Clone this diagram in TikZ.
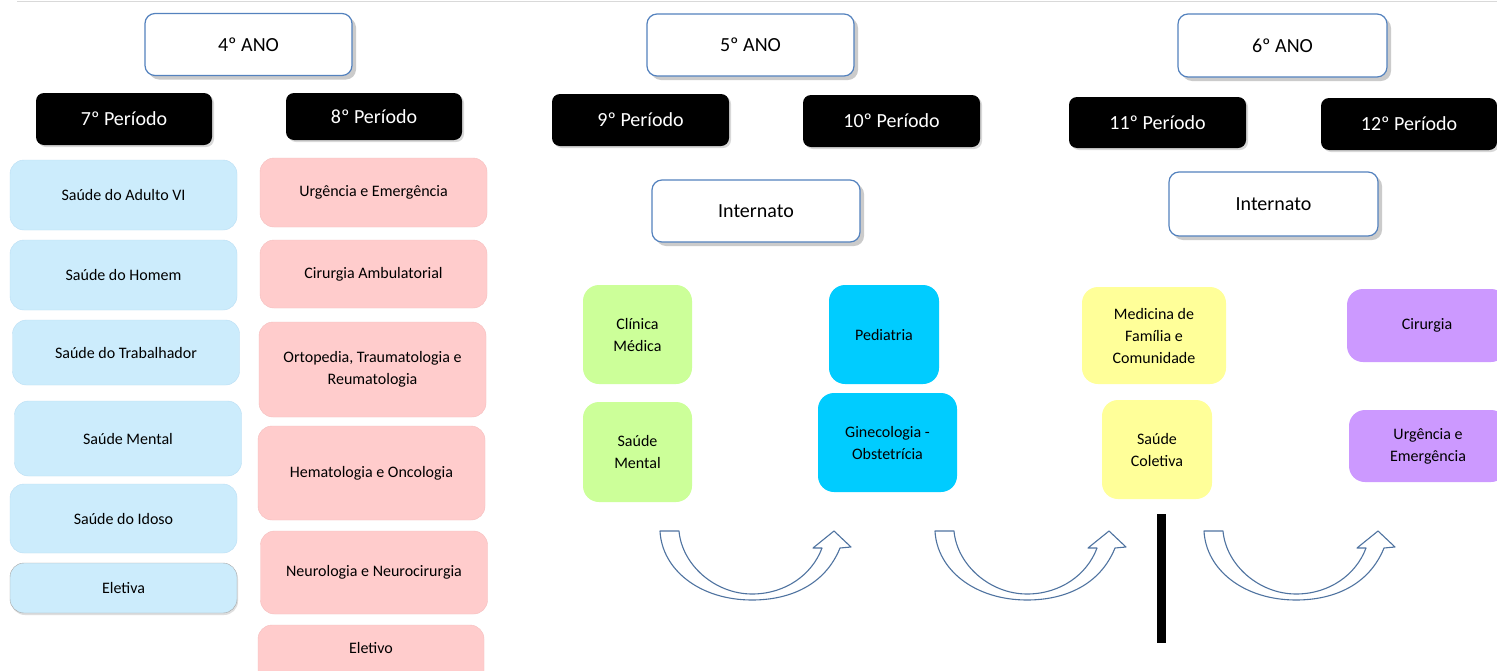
\documentclass[tikz,border=0pt]{standalone}
\usepackage{fontspec}
\setmainfont{Carlito}
\usetikzlibrary{positioning, shadows}

\definecolor{anoborder}{RGB}{84,130,190}
\definecolor{azul}{RGB}{204,236,252}
\definecolor{azulborda}{RGB}{186,222,244}
\definecolor{rosa}{RGB}{255,204,204}
\definecolor{rosaborda}{RGB}{245,190,190}
\definecolor{verde}{RGB}{204,255,153}
\definecolor{ciano}{RGB}{0,204,255}
\definecolor{amarelo}{RGB}{255,255,153}
\definecolor{lilas}{RGB}{204,153,255}
\definecolor{seta}{RGB}{79,115,160}

\begin{document}
\begin{tikzpicture}[x=1pt, y=-1pt,
            every node/.style = {
                shape=rectangle, align=center, inner sep=2pt,
                text=black, font=\fontsize{16}{22}\selectfont
            }
        ]
        \tikzstyle{ano}=[draw=anoborder, line width=1.2pt, fill=white, rounded corners=10pt,
            drop shadow={shadow xshift=4pt, shadow yshift=-4pt, fill=black!40},
            font=\fontsize{20}{24}\selectfont]
        \tikzstyle{periodo}=[fill=black, rounded corners=8pt, text=white,
            drop shadow={shadow xshift=2pt, shadow yshift=-2pt, fill=black!30},
            font=\fontsize{20}{24}\selectfont]
        \tikzstyle{setimo}=[fill=azul, draw=azulborda, rounded corners=14pt, minimum width=227pt]
        \tikzstyle{oitavo}=[fill=rosa, draw=rosaborda, rounded corners=14pt, minimum width=227pt]
        \tikzstyle{rodizio}=[rounded corners=16pt]

        \useasboundingbox (0,0) rectangle (1497,670);
        \fill[white] (0,0) rectangle (1497,670);
        \clip (0,0) rectangle (1497,670);
        \draw[black!15] (17,1) -- (1497,1);

        % anos
        \node[ano, minimum width=207pt, minimum height=62pt] (ano4) at (248.5,44.5) {4º ANO};
        \node[ano, minimum width=207pt, minimum height=62pt] (ano5) at (750.5,45) {5º ANO};
        \node[ano, minimum width=209pt, minimum height=63pt] (ano6) at (1282.5,45.5) {6º ANO};

        % periodos
        \node[periodo, minimum width=176pt, minimum height=52pt] (p7) at (124,119) {7º Período};
        \node[periodo, minimum width=176pt, minimum height=47pt] (p8) at (374,116.5) {8º Período};
        \node[periodo, minimum width=177pt, minimum height=52pt] (p9) at (640.5,120) {9º Período};
        \node[periodo, minimum width=177pt, minimum height=52pt] (p10) at (891.5,121) {10º Período};
        \node[periodo, minimum width=177pt, minimum height=51pt] (p11) at (1157.5,122.5) {11º Período};
        \node[periodo, minimum width=176pt, minimum height=52pt] (p12) at (1409,124) {12º Período};

        % internato
        \node[ano, minimum width=208pt, minimum height=62pt] (int5) at (756,211) {Internato};
        \node[ano, minimum width=209pt, minimum height=64pt] (int6) at (1273.5,204) {Internato};

        % 7 periodo
        \node[setimo, minimum height=70pt] (adulto) at (123.5,195) {Saúde do Adulto VI};
        \node[setimo, minimum height=70pt] (homem) at (123.5,275) {Saúde do Homem};
        \node[setimo, minimum height=65pt] (trabalhador) at (126,352.5) {Saúde do Trabalhador};
        \node[setimo, minimum height=75pt] (mental7) at (128,438.5) {Saúde Mental};
        \node[setimo, minimum height=69pt] (idoso) at (123.5,518.5) {Saúde do Idoso};
        \node[setimo, minimum height=50pt, draw=black!35,
            drop shadow={shadow xshift=1pt, shadow yshift=-2pt, fill=black!25}] (eletiva) at (123.5,588) {Eletiva};

        % 8 periodo
        \node[oitavo, minimum height=69pt] (urgencia8) at (373.5,192.5) {Urgência e Emergência};
        \node[oitavo, minimum height=68pt] (ambulatorial) at (373.5,274) {Cirurgia Ambulatorial};
        \node[oitavo, minimum height=95pt] (ortopedia) at (372.5,369.5) {Ortopedia, Traumatologia e\\Reumatologia};
        \node[oitavo, minimum height=94pt] (hemato) at (371.5,473) {Hematologia e Oncologia};
        \node[oitavo, minimum height=83pt] (neuro) at (374,572.5) {Neurologia e Neurocirurgia};
        \node[oitavo, minimum width=226pt, minimum height=60pt, text depth=15pt] (eletivo) at (371,655) {Eletivo};

        % 5 ano
        \node[rodizio, fill=verde, minimum width=109pt, minimum height=99pt] (clinica) at (637.5,334.5) {Clínica\\Médica};
        \node[rodizio, fill=verde, minimum width=109pt, minimum height=100pt] (mental9) at (637.5,452) {Saúde\\Mental};
        \node[rodizio, fill=ciano, minimum width=110pt, minimum height=99pt] (pediatria) at (884,334.5) {Pediatria};
        \node[rodizio, fill=ciano, minimum width=139pt, minimum height=99pt] (gineco) at (887.5,442.5) {Ginecologia -\\Obstetrícia};

        % 6 ano
        \node[rodizio, fill=amarelo, minimum width=144pt, minimum height=97pt] (familia) at (1154,335.5) {Medicina de\\Família e\\Comunidade};
        \node[rodizio, fill=amarelo, minimum width=110pt, minimum height=99pt] (coletiva) at (1157,449.5) {Saúde\\Coletiva};
        \node[rodizio, fill=lilas, minimum width=160pt, minimum height=73pt] (cirurgia) at (1427,325.5) {Cirurgia};
        \node[rodizio, fill=lilas, minimum width=158pt, minimum height=72pt] (urgencia12) at (1428,446) {Urgência e\\Emergência};

        \fill[black] (1157,514) rectangle (1166,643);

        % setas
        \foreach \dx in {0,275,544} {
            \begin{scope}[xshift=\dx pt]
                \draw[seta, line width=1.1pt, fill=white, line join=round]
                    (660,531) -- (679,531)
                    .. controls (682,565) and (715,594) .. (752,594)
                    .. controls (785,594) and (812,575) .. (822,548)
                    -- (813,548) -- (834,531) -- (851,547) -- (840,548)
                    .. controls (825,585) and (790,600) .. (752,600)
                    .. controls (700,600) and (662,570) .. (660,531) -- cycle;
            \end{scope}
        }
\end{tikzpicture}
\end{document}
